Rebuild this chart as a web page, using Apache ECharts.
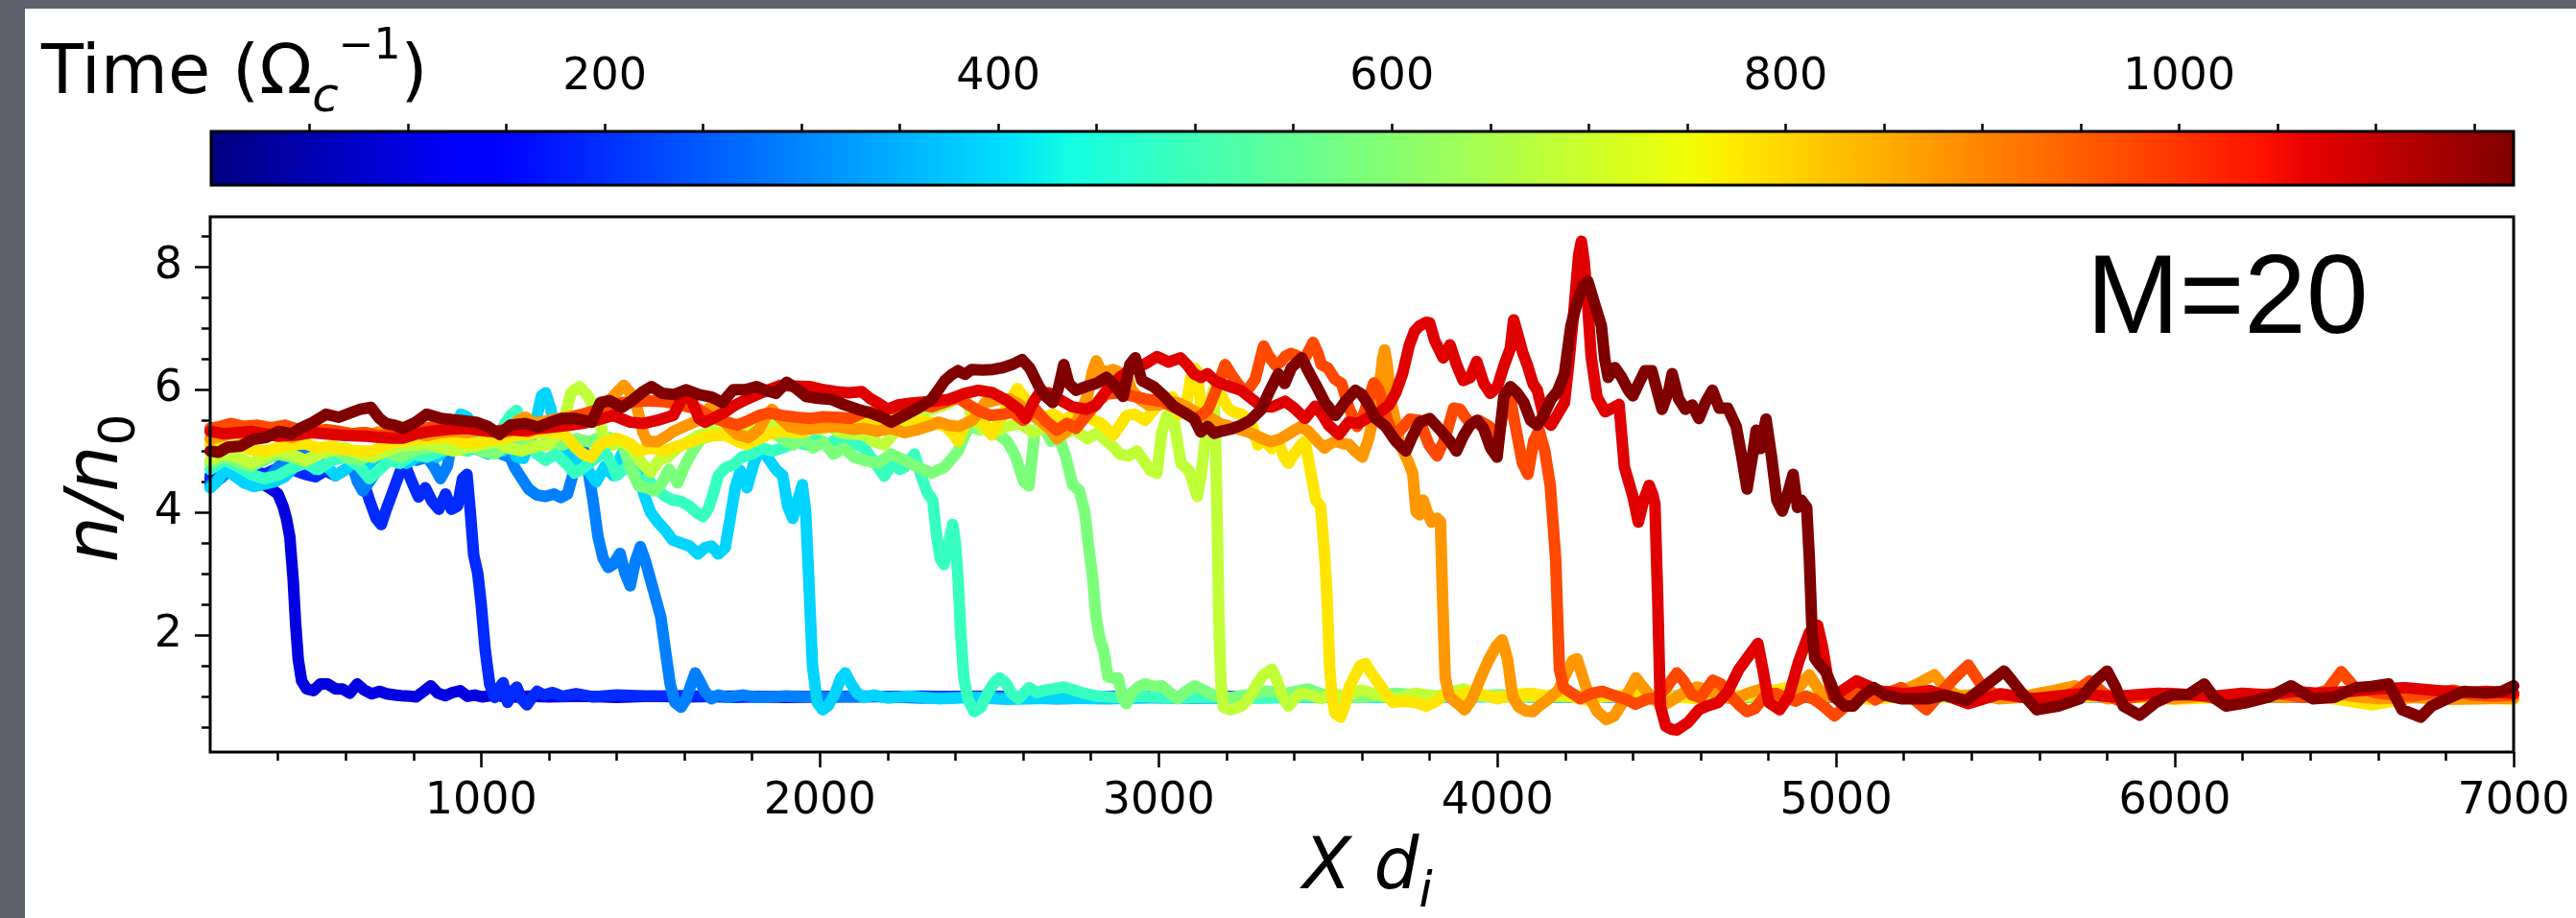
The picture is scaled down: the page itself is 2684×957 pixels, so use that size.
<!DOCTYPE html>
<html>

<head>
    <title>Density profiles, M=20</title>
    <meta charset="utf-8">
    <script src="https://cdn.jsdelivr.net/npm/echarts@6/dist/echarts.min.js"></script>
    <style>
        body { margin: 0; background: #5e616c; }
        #chart { position: absolute; left: 26px; top: 9px; width: 2658px; height: 948px; background: #fff; }
    </style>
</head>

<body>
    <div id="chart"></div>
    <script>
        // snapshot times (1/Omega_c), one profile each
        var times = [97.5, 195, 292.5, 390, 487.5, 585, 682.5, 780, 877.5, 975, 1072.5, 1170];

        // n/n0 profiles, [x, n/n0]
        var curve1 = [[200,4.55],[230,4.7],[260,4.78],[290,4.62],[320,4.55],[350,4.48],[380,4.38],[400,4.3],[415,4.1],[425,3.9],[435,3.6],[445,2.9],[452,2.2],[460,1.6],[470,1.25],[485,1.12],[505,1.09],[525,1.2],[547,1.2],[570,1.12],[590,1.12],[612,1.05],[634,1.2],[655,1.1],[677,1.04],[700,1.08],[721,1.04],[745,1.02],[764,1.01],[790,1.0],[808,0.99],[830,1.08],[851,1.17],[872,1.05],[894,1.01],[915,1.06],[938,1.09],[960,1.0],[981,1.02],[1003,0.99],[1040,1.02],[1080,0.98],[1140,1.0],[1200,0.99],[1300,1.0],[1400,0.98],[1500,1.0],[1600,0.99],[1750,1.0],[1900,0.98],[2100,1.0],[2300,0.99],[2500,1.0],[2700,0.98],[2900,1.0],[3100,0.99],[3300,1.0],[3600,0.98],[3900,1.0],[4200,0.99],[4500,1.0],[4800,0.98],[5100,1.0],[5500,0.99],[5900,1.0],[6300,0.98],[6700,1.0],[7000,0.99]];
        var curve2 = [[200,4.6],[240,4.75],[280,4.85],[320,4.7],[360,4.62],[400,4.72],[440,4.7],[480,4.62],[510,4.58],[540,4.68],[570,4.6],[600,4.7],[625,4.8],[650,4.55],[670,4.2],[690,3.9],[705,3.8],[720,4.05],[740,4.35],[760,4.65],[775,4.78],[795,4.5],[815,4.25],[835,4.4],[855,4.18],[875,4.05],[895,4.3],[912,4.05],[930,4.1],[945,4.55],[958,4.62],[968,4.0],[978,3.3],[990,3.0],[1000,2.5],[1012,1.75],[1025,1.2],[1040,0.98],[1055,1.15],[1065,1.22],[1078,0.9],[1092,1.08],[1105,1.15],[1120,0.95],[1135,0.86],[1150,0.98],[1165,1.08],[1185,1.02],[1210,1.06],[1240,1.0],[1280,1.04],[1330,0.99],[1400,1.02],[1500,1.0],[1600,1.01],[1750,0.98],[1900,1.0],[2100,0.99],[2300,1.0],[2500,0.98],[2750,1.0],[3000,0.99],[3300,1.0],[3600,0.98],[3900,1.0],[4200,0.99],[4600,1.0],[5000,0.98],[5400,1.0],[5800,0.99],[6200,1.0],[6600,0.99],[7000,1.0]];
        var curve3 = [[200,4.45],[230,4.55],[260,4.7],[300,4.55],[340,4.5],[380,4.6],[410,4.8],[440,4.92],[470,4.95],[500,5.0],[530,4.95],[560,4.9],[590,5.0],[615,4.85],[635,4.5],[650,4.35],[670,4.5],[700,4.75],[720,4.9],[750,5.0],[780,4.95],[810,4.85],[840,4.9],[860,4.75],[880,4.55],[900,4.75],[915,5.2],[930,5.3],[950,5.15],[975,5.05],[1000,5.0],[1030,5.05],[1060,4.95],[1085,4.9],[1100,4.72],[1120,4.55],[1140,4.38],[1165,4.28],[1190,4.26],[1215,4.3],[1235,4.24],[1255,4.3],[1270,4.6],[1285,5.0],[1300,5.1],[1315,4.7],[1330,4.2],[1345,3.6],[1360,3.25],[1375,3.1],[1390,3.15],[1410,3.33],[1425,3.0],[1440,2.8],[1455,3.2],[1470,3.44],[1485,3.2],[1500,2.9],[1515,2.6],[1530,2.3],[1545,1.7],[1558,1.2],[1572,0.9],[1590,0.82],[1605,0.95],[1620,1.2],[1632,1.38],[1645,1.25],[1660,1.08],[1680,0.96],[1700,1.02],[1730,0.98],[1770,1.02],[1820,0.98],[1900,1.0],[2000,0.98],[2150,1.0],[2300,0.97],[2500,0.99],[2700,0.96],[2900,0.98],[3100,0.97],[3400,0.99],[3700,0.98],[4000,1.0],[4400,0.99],[4800,1.0],[5200,0.99],[5600,1.0],[6000,0.99],[6500,1.0],[7000,0.99]];
        var curve4 = [[200,4.4],[220,4.5],[245,4.72],[270,4.6],[300,4.48],[330,4.42],[360,4.46],[390,4.5],[420,4.58],[450,4.75],[480,4.85],[510,4.7],[540,4.78],[570,4.6],[600,4.7],[630,4.85],[660,4.75],[690,4.7],[720,4.85],[750,4.95],[780,4.8],[810,4.9],[840,5.0],[870,4.9],[900,5.05],[920,5.2],[940,5.6],[960,5.55],[980,5.3],[1000,5.0],[1020,4.95],[1045,5.05],[1065,5.0],[1086,5.1],[1105,4.9],[1125,4.88],[1145,5.15],[1162,5.5],[1178,5.9],[1190,5.95],[1205,5.7],[1218,5.3],[1235,5.05],[1260,4.95],[1285,4.8],[1310,4.72],[1340,4.5],[1365,4.75],[1390,4.6],[1415,4.95],[1440,4.7],[1460,4.85],[1480,4.3],[1500,4.0],[1520,3.85],[1545,3.7],[1565,3.55],[1590,3.5],[1615,3.45],[1640,3.32],[1660,3.42],[1680,3.45],[1700,3.32],[1720,3.42],[1735,3.9],[1750,4.4],[1765,4.68],[1785,4.4],[1805,4.8],[1825,5.05],[1845,4.9],[1870,4.7],[1890,4.6],[1905,4.1],[1920,3.9],[1935,4.2],[1948,4.45],[1958,4.0],[1968,2.8],[1978,1.5],[1992,0.9],[2008,0.78],[2025,0.85],[2045,1.05],[2062,1.3],[2075,1.38],[2092,1.2],[2110,1.05],[2130,0.98],[2160,1.02],[2200,0.97],[2260,1.0],[2350,0.96],[2450,0.98],[2550,0.95],[2700,0.97],[2850,0.96],[3000,0.98],[3200,0.97],[3500,0.99],[3800,0.98],[4100,1.0],[4500,0.99],[4900,1.0],[5300,0.99],[5700,1.0],[6100,0.99],[6600,1.0],[7000,0.99]];
        var curve5 = [[200,4.7],[240,4.85],[280,4.75],[320,4.62],[360,4.55],[400,4.6],[440,4.72],[480,4.8],[520,4.7],[560,4.85],[600,4.9],[640,4.75],[670,4.55],[700,4.7],[730,4.85],[760,4.8],[800,4.95],[840,4.9],[880,5.0],[920,5.05],[960,5.0],[1000,5.1],[1040,5.15],[1073,5.47],[1090,5.6],[1105,5.66],[1125,5.4],[1145,5.1],[1165,4.95],[1190,4.85],[1220,4.95],[1250,4.8],[1276,4.64],[1300,4.72],[1330,4.85],[1364,5.0],[1385,4.8],[1400,4.6],[1420,4.7],[1445,4.78],[1465,4.48],[1490,4.55],[1515,4.4],[1541,4.27],[1565,4.2],[1590,4.18],[1615,4.1],[1635,4.0],[1655,3.93],[1670,4.05],[1685,4.3],[1700,4.6],[1720,4.72],[1745,4.78],[1770,4.9],[1800,4.95],[1830,5.05],[1860,5.0],[1896,5.06],[1930,5.15],[1960,5.1],[1990,5.2],[2020,5.1],[2050,5.2],[2080,5.15],[2110,5.1],[2130,5.06],[2150,4.9],[2170,4.75],[2190,4.59],[2205,4.72],[2220,4.85],[2235,4.7],[2250,4.74],[2265,4.85],[2279,4.95],[2290,4.75],[2301,4.56],[2317,4.32],[2333,4.2],[2345,3.6],[2355,3.25],[2366,3.15],[2380,3.5],[2392,3.8],[2400,3.5],[2408,2.9],[2416,2.0],[2425,1.3],[2437,0.95],[2455,0.75],[2475,0.82],[2495,1.05],[2512,1.2],[2530,1.3],[2548,1.22],[2566,1.05],[2586,0.96],[2602,1.05],[2618,1.14],[2640,1.06],[2665,1.1],[2690,1.12],[2720,1.15],[2750,1.1],[2780,1.05],[2820,1.0],[2880,0.98],[2950,1.0],[3050,0.97],[3150,0.99],[3300,0.97],[3500,0.99],[3700,0.98],[3900,1.0],[4200,0.99],[4500,1.0],[4900,0.99],[5300,1.0],[5700,0.99],[6100,1.0],[6600,0.99],[7000,1.0]];
        var curve6 = [[200,4.8],[240,4.9],[280,4.82],[320,4.75],[360,4.85],[400,4.95],[440,4.9],[480,4.82],[520,4.95],[560,5.05],[600,4.9],[640,4.85],[680,4.95],[720,5.0],[760,4.9],[800,5.0],[840,5.05],[880,5.1],[920,5.05],[960,5.11],[1000,5.0],[1040,4.95],[1080,5.1],[1120,5.15],[1160,5.05],[1200,5.15],[1240,5.1],[1280,5.2],[1320,5.15],[1360,5.25],[1390,5.2],[1415,5.16],[1440,4.74],[1465,4.43],[1490,4.4],[1510,4.35],[1530,4.45],[1555,4.7],[1580,4.48],[1600,4.75],[1625,5.0],[1650,5.2],[1680,5.25],[1710,5.35],[1740,5.3],[1770,5.15],[1800,5.2],[1830,5.4],[1860,5.3],[1890,5.2],[1920,5.1],[1950,5.2],[1980,5.05],[2010,5.15],[2040,4.95],[2070,5.05],[2100,4.9],[2130,4.85],[2170,4.8],[2210,4.95],[2250,4.85],[2289,4.74],[2329,4.64],[2369,4.74],[2408,5.0],[2439,5.4],[2470,5.35],[2504,5.34],[2530,5.25],[2553,5.16],[2577,4.92],[2602,4.5],[2617,4.43],[2634,5.3],[2655,5.45],[2683,5.16],[2707,5.21],[2726,4.9],[2746,4.45],[2766,4.35],[2782,4.0],[2792,3.5],[2805,2.94],[2815,2.3],[2826,1.95],[2838,1.74],[2850,1.32],[2865,1.3],[2880,1.3],[2895,0.95],[2905,0.88],[2920,1.05],[2940,1.15],[2960,1.2],[2985,1.16],[3009,1.17],[3035,1.05],[3057,0.96],[3080,1.08],[3106,1.17],[3139,1.08],[3170,1.0],[3210,0.98],[3260,1.02],[3320,1.08],[3380,1.05],[3440,1.12],[3500,1.0],[3600,0.98],[3700,1.05],[3800,1.0],[3900,1.0],[4000,1.02],[4200,0.99],[4400,1.0],[4600,0.98],[4900,1.0],[5300,0.99],[5700,1.0],[6100,0.99],[6600,1.0],[7000,1.0]];
        var curve7 = [[200,4.85],[240,4.95],[280,4.9],[320,4.8],[360,4.9],[400,5.0],[440,4.95],[480,4.85],[520,4.95],[560,5.0],[600,5.05],[640,4.95],[680,4.9],[720,5.0],[760,5.08],[800,5.1],[840,5.12],[880,5.05],[920,5.0],[960,5.05],[1000,5.1],[1040,5.15],[1080,5.05],[1120,5.0],[1160,5.08],[1200,5.1],[1240,5.4],[1265,5.95],[1290,6.05],[1315,5.9],[1339,5.63],[1364,5.21],[1390,5.1],[1420,5.15],[1450,5.0],[1475,4.8],[1500,4.65],[1525,4.85],[1550,4.9],[1580,5.05],[1610,5.15],[1640,5.25],[1670,5.3],[1700,5.4],[1730,5.35],[1760,5.45],[1790,5.38],[1820,5.5],[1850,5.45],[1880,5.5],[1910,5.42],[1940,5.38],[1970,5.45],[2000,5.35],[2030,5.4],[2060,5.3],[2090,5.28],[2130,5.27],[2160,5.15],[2190,5.1],[2220,5.3],[2250,5.45],[2290,5.6],[2329,5.68],[2370,5.75],[2400,5.85],[2428,5.89],[2450,5.55],[2480,5.35],[2510,5.3],[2550,5.4],[2590,5.45],[2630,5.3],[2670,5.4],[2710,5.25],[2750,5.35],[2790,5.2],[2820,5.3],[2846,5.16],[2870,5.05],[2885,4.95],[2911,4.92],[2935,5.0],[2955,4.85],[2976,4.68],[2995,4.64],[3009,5.3],[3025,5.58],[3045,5.5],[3066,4.8],[3090,4.68],[3106,4.4],[3114,4.26],[3125,4.6],[3140,5.3],[3152,5.8],[3162,6.0],[3168,5.2],[3173,3.8],[3178,2.2],[3184,1.2],[3192,0.82],[3212,0.78],[3244,0.84],[3265,0.95],[3290,1.2],[3310,1.35],[3334,1.44],[3350,1.25],[3365,1.0],[3383,0.84],[3400,0.95],[3420,1.05],[3448,1.02],[3480,0.96],[3510,1.04],[3550,1.0],[3600,1.1],[3650,1.02],[3700,0.96],[3760,1.05],[3820,1.0],[3900,1.12],[3960,1.0],[4050,0.98],[4200,1.02],[4400,1.0],[4600,0.98],[4900,1.0],[5300,0.98],[5700,1.0],[6100,0.98],[6600,1.0],[7000,0.99]];
        var curve8 = [[200,5.1],[240,5.05],[280,5.1],[320,5.02],[360,5.0],[400,5.05],[440,5.1],[480,5.12],[520,5.05],[560,5.08],[600,5.02],[640,5.0],[681,5.0],[720,5.1],[760,5.15],[800,5.18],[840,5.2],[880,5.22],[909,5.21],[940,5.15],[980,5.12],[1020,5.18],[1060,5.2],[1100,5.25],[1150,5.28],[1212,5.32],[1250,5.25],[1280,5.05],[1301,4.95],[1325,4.9],[1350,5.1],[1400,5.21],[1440,5.12],[1465,5.0],[1500,5.05],[1541,5.0],[1580,5.08],[1620,5.15],[1668,5.24],[1720,5.26],[1760,5.15],[1782,5.11],[1820,5.2],[1860,5.3],[1896,5.32],[1940,5.3],[1990,5.38],[2040,5.4],[2098,5.42],[2140,5.47],[2180,5.5],[2229,5.53],[2280,5.5],[2329,5.47],[2370,5.4],[2390,5.3],[2408,5.16],[2425,5.4],[2450,5.55],[2480,5.5],[2508,5.26],[2530,5.5],[2560,5.8],[2583,6.02],[2600,5.9],[2630,5.65],[2660,5.55],[2690,5.6],[2720,5.5],[2750,5.6],[2790,5.55],[2830,5.45],[2866,5.26],[2890,5.45],[2905,5.58],[2930,5.6],[2960,5.5],[2990,5.7],[3020,5.85],[3041,5.88],[3060,5.6],[3080,5.7],[3095,6.2],[3106,6.35],[3114,6.3],[3125,5.7],[3150,5.75],[3170,5.85],[3188,5.88],[3205,5.7],[3220,5.64],[3245,5.6],[3265,5.5],[3277,5.4],[3293,5.1],[3310,5.2],[3334,5.04],[3355,5.15],[3370,4.9],[3383,4.8],[3400,4.95],[3420,5.1],[3432,5.16],[3448,4.68],[3464,4.2],[3478,4.1],[3490,3.3],[3497,2.64],[3505,1.44],[3513,0.95],[3521,0.72],[3537,0.66],[3550,0.85],[3562,1.14],[3578,1.32],[3595,1.5],[3611,1.53],[3625,1.4],[3640,1.28],[3659,1.14],[3675,1.0],[3692,0.9],[3720,0.92],[3757,0.9],[3790,0.84],[3820,0.92],[3850,1.05],[3880,1.0],[3920,1.08],[3960,1.02],[4000,0.96],[4040,1.02],[4100,1.05],[4150,1.0],[4200,1.02],[4260,0.94],[4320,1.0],[4400,1.03],[4500,1.0],[4600,0.96],[4700,1.0],[4800,1.08],[4870,1.15],[4921,1.3],[4960,1.05],[5000,1.0],[5100,0.95],[5200,1.0],[5400,1.02],[5600,0.97],[5800,1.0],[6000,0.95],[6200,1.0],[6400,1.02],[6583,0.86],[6700,0.98],[6800,1.0],[7000,0.95]];
        var curve9 = [[200,5.2],[240,5.25],[280,5.3],[320,5.2],[360,5.25],[400,5.3],[440,5.22],[480,5.3],[520,5.35],[560,5.3],[600,5.25],[640,5.3],[680,5.28],[720,5.35],[760,5.4],[800,5.3],[840,5.25],[880,5.3],[920,5.32],[960,5.3],[1000,5.35],[1040,5.3],[1086,5.37],[1110,5.5],[1130,5.55],[1160,5.45],[1200,5.5],[1250,5.55],[1300,5.6],[1339,5.63],[1370,5.8],[1390,5.89],[1408,6.0],[1421,6.07],[1440,5.95],[1455,5.8],[1465,5.6],[1478,5.3],[1490,5.16],[1520,5.15],[1550,5.25],[1567,5.32],[1600,5.4],[1640,5.5],[1680,5.73],[1700,5.6],[1730,5.4],[1756,5.27],[1790,5.22],[1820,5.35],[1845,5.6],[1858,5.68],[1880,5.55],[1910,5.4],[1950,5.35],[2000,5.38],[2050,5.4],[2100,5.35],[2130,5.37],[2170,5.32],[2210,5.37],[2250,5.3],[2290,5.35],[2330,5.42],[2349,5.47],[2380,5.42],[2410,5.4],[2450,5.5],[2488,5.79],[2528,5.84],[2560,5.85],[2590,5.75],[2620,5.6],[2650,5.5],[2680,5.35],[2700,5.2],[2726,5.32],[2760,5.5],[2790,5.9],[2805,6.3],[2816,6.47],[2830,6.3],[2850,6.3],[2866,6.33],[2885,6.28],[2905,6.25],[2920,6.0],[2945,5.84],[2970,5.75],[3000,5.75],[3030,5.8],[3060,5.78],[3090,5.7],[3120,5.6],[3150,5.55],[3180,5.45],[3210,5.4],[3240,5.35],[3270,5.3],[3300,5.22],[3330,5.15],[3360,5.2],[3390,5.3],[3420,5.4],[3442,5.32],[3470,5.15],[3490,5.05],[3500,5.1],[3522,5.16],[3545,5.12],[3561,5.11],[3580,5.0],[3601,4.9],[3620,5.2],[3640,5.7],[3651,5.99],[3661,6.5],[3667,6.65],[3675,6.4],[3686,5.8],[3700,5.47],[3712,5.1],[3722,5.0],[3735,4.85],[3750,4.64],[3760,4.01],[3770,3.96],[3781,4.2],[3793,4.0],[3806,3.84],[3822,3.9],[3832,3.85],[3838,2.64],[3846,1.3],[3858,1.0],[3871,0.93],[3890,0.85],[3903,0.78],[3925,0.95],[3952,1.32],[3975,1.6],[3997,1.82],[4014,1.92],[4030,1.6],[4045,1.0],[4062,0.83],[4085,0.76],[4105,0.75],[4125,0.85],[4150,0.95],[4180,1.1],[4205,1.4],[4222,1.58],[4235,1.61],[4250,1.35],[4270,1.0],[4295,0.75],[4322,0.62],[4345,0.68],[4370,0.9],[4395,1.15],[4409,1.3],[4430,1.15],[4460,0.95],[4490,0.85],[4520,0.95],[4555,1.08],[4590,1.15],[4620,1.1],[4660,1.0],[4700,0.95],[4740,1.05],[4780,1.12],[4810,1.02],[4850,0.95],[4890,1.15],[4921,1.35],[4950,1.1],[4990,0.98],[5040,0.95],[5080,1.0],[5130,1.02],[5180,1.05],[5240,1.2],[5290,1.35],[5320,1.15],[5360,1.0],[5430,1.02],[5480,0.96],[5540,0.98],[5600,1.05],[5650,1.1],[5704,1.17],[5750,1.05],[5800,0.96],[5850,0.98],[5920,1.0],[6000,0.96],[6080,1.0],[6160,0.97],[6250,1.0],[6330,0.98],[6400,1.02],[6460,1.08],[6520,1.0],[6600,0.96],[6700,0.98],[6800,0.95],[6900,0.96],[7000,0.97]];
        var curve10 = [[200,5.37],[230,5.4],[260,5.45],[300,5.4],[340,5.42],[380,5.38],[420,5.42],[460,5.35],[500,5.3],[540,5.35],[580,5.32],[620,5.28],[660,5.3],[700,5.25],[740,5.28],[780,5.3],[820,5.35],[860,5.4],[896,5.42],[940,5.38],[980,5.35],[1022,5.32],[1060,5.3],[1100,5.35],[1140,5.32],[1180,5.4],[1212,5.47],[1250,5.52],[1288,5.58],[1330,5.65],[1370,5.72],[1415,5.79],[1450,5.8],[1490,5.82],[1529,5.81],[1570,5.78],[1610,5.72],[1643,5.68],[1680,5.55],[1720,5.48],[1756,5.42],[1790,5.5],[1820,5.58],[1850,5.62],[1890,5.58],[1930,5.55],[1972,5.53],[2010,5.56],[2050,5.55],[2090,5.53],[2130,5.63],[2170,5.65],[2210,5.7],[2250,5.68],[2293,5.76],[2330,5.72],[2370,5.8],[2407,5.87],[2440,5.75],[2470,5.65],[2504,5.58],[2540,5.6],[2570,5.63],[2600,5.5],[2634,5.69],[2665,5.5],[2699,5.34],[2730,5.45],[2756,5.37],[2790,5.6],[2820,5.8],[2846,5.93],[2880,5.95],[2920,5.9],[2960,5.85],[3009,5.81],[3050,5.7],[3080,5.62],[3106,5.52],[3130,5.6],[3147,5.69],[3170,6.0],[3196,6.41],[3220,6.2],[3253,5.96],[3270,6.05],[3285,6.17],[3300,6.5],[3310,6.71],[3325,6.55],[3345,6.4],[3360,6.45],[3375,6.55],[3391,6.59],[3410,6.55],[3425,6.45],[3440,6.6],[3456,6.77],[3470,6.6],[3480,6.41],[3500,6.35],[3521,6.17],[3540,6.1],[3562,5.7],[3586,5.4],[3605,5.6],[3620,5.85],[3635,6.11],[3650,6.0],[3670,5.6],[3692,5.22],[3715,5.35],[3741,5.52],[3770,5.5],[3798,5.1],[3822,4.92],[3845,5.2],[3871,5.7],[3890,5.68],[3905,5.55],[3920,5.46],[3945,5.5],[3977,5.4],[3995,5.0],[4017,5.64],[4034,6.0],[4050,5.5],[4074,4.8],[4090,4.62],[4107,5.16],[4123,5.34],[4140,5.0],[4156,4.44],[4172,3.24],[4183,1.44],[4196,1.14],[4220,1.05],[4245,0.96],[4280,1.05],[4310,1.08],[4350,1.0],[4380,0.95],[4408,0.87],[4440,0.95],[4473,0.98],[4500,1.15],[4530,1.38],[4550,1.25],[4575,1.02],[4600,0.98],[4636,1.26],[4660,1.2],[4690,1.0],[4715,0.85],[4737,0.75],[4760,0.8],[4790,1.0],[4820,1.05],[4850,0.98],[4880,0.92],[4910,1.0],[4935,0.95],[4960,0.85],[4995,0.68],[5020,0.8],[5060,1.2],[5090,1.05],[5116,0.94],[5150,1.05],[5192,1.14],[5230,0.95],[5267,0.78],[5315,1.09],[5350,1.3],[5390,1.51],[5428,1.19],[5466,1.04],[5530,1.0],[5627,0.94],[5700,1.05],[5749,1.25],[5790,1.05],[5830,0.94],[5900,1.0],[5980,1.05],[6060,1.02],[6140,0.95],[6220,1.0],[6300,1.05],[6380,0.98],[6450,1.1],[6491,1.4],[6530,1.15],[6600,1.05],[6650,1.02],[6700,1.0],[6760,1.05],[6820,1.1],[6880,1.02],[6940,1.0],[7000,1.02]];
        var curve11 = [[200,5.32],[240,5.28],[280,5.3],[320,5.32],[360,5.28],[400,5.24],[453,5.26],[500,5.3],[540,5.28],[580,5.26],[620,5.25],[660,5.24],[700,5.22],[740,5.21],[769,5.21],[810,5.28],[850,5.32],[900,5.35],[959,5.37],[1000,5.34],[1040,5.32],[1080,5.35],[1120,5.33],[1160,5.36],[1212,5.39],[1260,5.42],[1300,5.45],[1340,5.5],[1390,5.58],[1440,5.47],[1480,5.45],[1520,5.5],[1567,5.58],[1592,5.84],[1617,5.89],[1643,5.53],[1661,5.47],[1690,5.55],[1718,5.63],[1750,5.75],[1782,5.84],[1815,5.92],[1845,5.99],[1883,6.07],[1920,6.06],[1972,6.05],[2010,6.0],[2047,5.97],[2085,5.95],[2123,5.97],[2150,5.85],[2170,5.79],[2200,5.68],[2230,5.75],[2270,5.78],[2329,5.81],[2380,5.84],[2428,5.94],[2468,5.99],[2510,5.95],[2547,5.84],[2587,5.68],[2607,5.53],[2630,5.8],[2647,5.94],[2675,5.95],[2707,5.84],[2745,5.72],[2786,5.68],[2815,5.75],[2846,5.99],[2885,6.2],[2925,6.36],[2960,6.42],[2995,6.54],[3030,6.45],[3064,6.52],[3085,6.4],[3104,6.26],[3125,6.2],[3144,6.26],[3165,6.15],[3184,6.1],[3210,6.05],[3243,5.99],[3275,5.85],[3303,5.73],[3335,5.72],[3373,5.81],[3400,5.7],[3432,5.53],[3462,5.73],[3482,5.6],[3502,5.42],[3532,5.27],[3561,5.47],[3590,5.45],[3620,5.55],[3650,5.62],[3680,5.75],[3700,5.95],[3720,6.26],[3740,6.73],[3755,6.95],[3770,7.04],[3790,7.1],[3800,7.09],[3815,6.8],[3840,6.52],[3860,6.73],[3880,6.4],[3899,6.15],[3920,6.2],[3939,6.46],[3960,6.1],[3979,5.94],[4000,6.05],[4020,6.4],[4038,6.67],[4048,7.14],[4060,6.9],[4075,6.6],[4088,6.41],[4105,6.1],[4118,5.99],[4138,5.53],[4158,5.42],[4178,5.6],[4198,5.79],[4212,6.5],[4227,7.35],[4240,8.2],[4248,8.42],[4256,8.1],[4265,7.5],[4277,6.53],[4294,5.88],[4318,5.64],[4340,5.7],[4359,5.76],[4375,4.74],[4400,4.26],[4416,3.84],[4432,4.2],[4448,4.44],[4458,4.3],[4465,4.14],[4473,2.64],[4481,0.84],[4497,0.51],[4515,0.46],[4530,0.45],[4562,0.57],[4595,0.78],[4619,0.84],[4652,0.9],[4681,1.08],[4713,1.44],[4745,1.68],[4769,1.86],[4785,1.4],[4801,0.9],[4833,0.78],[4860,1.0],[4889,1.56],[4921,2.04],[4945,2.16],[4960,1.8],[4975,1.3],[4993,0.99],[5020,1.1],[5060,1.25],[5126,1.09],[5201,1.04],[5277,1.09],[5340,0.98],[5390,0.88],[5485,1.04],[5579,0.96],[5650,1.0],[5721,1.04],[5815,0.99],[5880,1.02],[5950,1.05],[6050,1.02],[6120,1.0],[6199,1.05],[6280,1.02],[6350,1.08],[6420,1.05],[6519,1.08],[6600,1.12],[6679,1.14],[6760,1.1],[6850,1.06],[6920,1.08],[7000,1.05]];
        var curve12 = [[200,5.0],[225,4.98],[251,5.06],[290,5.08],[327,5.19],[365,5.22],[402,5.32],[440,5.28],[466,5.37],[504,5.47],[542,5.6],[580,5.55],[618,5.63],[643,5.68],[675,5.71],[700,5.53],[719,5.45],[745,5.42],[769,5.37],[807,5.47],[839,5.6],[883,5.53],[935,5.5],[985,5.47],[1020,5.4],[1054,5.27],[1086,5.42],[1130,5.45],[1168,5.39],[1200,5.46],[1238,5.53],[1280,5.53],[1326,5.47],[1352,5.79],[1380,5.82],[1415,5.71],[1445,5.82],[1478,5.97],[1503,6.05],[1535,5.94],[1570,5.92],[1605,6.0],[1643,5.92],[1680,5.88],[1712,5.79],[1744,6.0],[1780,6.0],[1813,6.05],[1845,5.98],[1870,5.94],[1902,6.12],[1930,6.02],[1959,5.89],[1995,5.86],[2035,5.84],[2070,5.76],[2111,5.68],[2150,5.62],[2184,5.55],[2210,5.47],[2249,5.58],[2290,5.7],[2329,5.84],[2350,6.0],[2369,6.15],[2390,6.25],[2408,6.31],[2428,6.25],[2448,6.33],[2480,6.32],[2510,6.33],[2540,6.36],[2567,6.41],[2597,6.49],[2620,6.35],[2647,6.05],[2667,5.89],[2687,5.79],[2703,6.0],[2720,6.41],[2735,6.1],[2756,5.99],[2785,6.05],[2815,6.1],[2846,6.2],[2866,6.1],[2895,5.89],[2915,6.41],[2931,6.52],[2950,6.15],[2985,6.05],[3015,5.9],[3044,5.73],[3074,5.63],[3104,5.53],[3124,5.31],[3144,5.4],[3164,5.29],[3190,5.33],[3215,5.36],[3243,5.42],[3270,5.5],[3303,5.68],[3325,5.95],[3353,6.26],[3372,6.1],[3392,6.36],[3422,6.52],[3442,6.3],[3462,6.1],[3492,5.78],[3522,5.58],[3550,5.8],[3581,5.99],[3600,5.92],[3620,5.75],[3641,5.53],[3670,5.4],[3700,5.16],[3730,5.0],[3750,5.25],[3770,5.47],[3800,5.53],[3830,5.35],[3860,5.16],[3879,5.0],[3900,5.25],[3919,5.42],[3940,5.5],[3959,5.37],[3980,5.05],[3999,4.9],[4019,5.89],[4038,6.05],[4058,5.95],[4078,5.79],[4098,5.5],[4118,5.42],[4138,5.6],[4158,5.84],[4178,5.98],[4198,6.26],[4217,7.04],[4237,7.46],[4255,7.7],[4267,7.77],[4287,7.4],[4307,7.04],[4317,6.5],[4327,6.2],[4347,6.36],[4367,6.2],[4387,5.99],[4400,5.9],[4417,6.1],[4436,6.31],[4456,6.31],[4476,5.89],[4486,5.68],[4506,5.99],[4516,6.26],[4535,5.85],[4555,5.68],[4575,5.75],[4595,5.53],[4615,5.8],[4635,5.99],[4655,5.7],[4680,5.7],[4705,5.4],[4721,4.92],[4737,4.38],[4753,4.92],[4764,5.34],[4777,5.04],[4793,5.52],[4809,4.92],[4825,4.2],[4841,4.02],[4857,4.3],[4873,4.62],[4886,4.08],[4897,4.2],[4913,4.08],[4921,3.24],[4929,2.04],[4937,1.62],[4953,1.5],[4969,1.4],[4985,1.2],[5001,0.96],[5025,0.84],[5050,0.84],[5081,1.02],[5112,1.14],[5144,1.02],[5192,0.96],[5232,0.96],[5272,0.96],[5320,1.02],[5350,0.98],[5384,0.93],[5440,1.17],[5470,1.3],[5496,1.41],[5520,1.25],[5544,1.08],[5592,0.78],[5656,0.84],[5720,0.96],[5768,1.26],[5800,1.41],[5825,1.15],[5848,0.84],[5896,0.69],[5943,0.9],[5991,1.02],[6040,1.03],[6087,1.2],[6119,0.96],[6151,0.84],[6215,0.9],[6279,0.99],[6343,1.17],[6407,0.96],[6470,0.98],[6535,1.14],[6580,1.16],[6631,1.2],[6671,0.78],[6726,0.66],[6758,0.84],[6800,0.95],[6854,1.08],[6918,1.05],[6966,1.08],[7000,1.17]];

        var curves = [curve1, curve2, curve3, curve4, curve5, curve6, curve7, curve8, curve9, curve10, curve11, curve12];

        // tick positions
        var xMajor = [1000, 2000, 3000, 4000, 5000, 6000, 7000];
        var yMajor = [2, 4, 6, 8];
        var cbMajor = [200, 400, 600, 800, 1000];
        var xMinor = [], yMinor = [], cbMinor = [];
        for (var v = 400; v <= 7000; v += 200) xMinor.push(v);
        for (var v = 0.5; v <= 8.5; v += 0.5) yMinor.push(v);
        for (var v = 50; v <= 1150; v += 50) cbMinor.push(v);

        var cbMin = 0, cbMax = 1170;

        // matplotlib 'jet' colormap segments
        var jetR = [[0, 0], [0.35, 0], [0.66, 1], [0.89, 1], [1, 0.5]];
        var jetG = [[0, 0], [0.125, 0], [0.375, 1], [0.64, 1], [0.91, 0], [1, 0]];
        var jetB = [[0, 0.5], [0.11, 1], [0.34, 1], [0.65, 0], [1, 0]];
        function seg(pts, t) {
            for (var i = 1; i < pts.length; i++) {
                if (t <= pts[i][0]) {
                    var a = pts[i - 1], b = pts[i];
                    return a[1] + (b[1] - a[1]) * (t - a[0]) / (b[0] - a[0]);
                }
            }
            return pts[pts.length - 1][1];
        }
        function jet(t) {
            var c = [seg(jetR, t), seg(jetG, t), seg(jetB, t)].map(function (x) { return Math.round(x * 255); });
            return 'rgb(' + c.join(',') + ')';
        }
        var stops = [0, 0.11, 0.125, 0.34, 0.35, 0.375, 0.64, 0.65, 0.66, 0.89, 0.91, 1].map(function (t) {
            return { offset: t, color: jet(t) };
        });

        var tickLabel = { fontFamily: 'DejaVu Sans', fontSize: 46, color: '#000', formatter: function (v) { return String(v); } };
        var tickLine = { color: '#000', width: 2.5 };

        function axis(gridIndex, pos, min, max, ticks, len, labels, margin) {
            return {
                gridIndex: gridIndex, type: 'value', position: pos, min: min, max: max,
                axisLine: { show: false }, splitLine: { show: false },
                axisTick: { show: true, customValues: ticks, length: len, lineStyle: tickLine },
                axisLabel: labels ? Object.assign({ show: true, customValues: labels, margin: margin }, tickLabel) : { show: false }
            };
        }

        var chart = echarts.init(document.getElementById('chart'));
        var option = {
            animation: false,
            grid: [
                { left: 193, top: 217, width: 2400, height: 558, show: true, borderColor: '#000', borderWidth: 3, backgroundColor: 'transparent', z: 3 },
                { left: 194, top: 128, width: 2399, height: 56, show: true, borderColor: '#000', borderWidth: 3, backgroundColor: 'transparent', z: 3 }
            ],
            xAxis: [
                axis(0, 'bottom', 200, 7000, xMajor, 16, xMajor, 29),
                axis(0, 'bottom', 200, 7000, xMinor, 9),
                axis(1, 'top', cbMin, cbMax, cbMajor, 15, cbMajor, 33),
                axis(1, 'top', cbMin, cbMax, cbMinor, 8)
            ],
            yAxis: [
                axis(0, 'left', 0.09, 8.82, yMajor, 16, yMajor, 29),
                axis(0, 'left', 0.09, 8.82, yMinor, 9),
                { gridIndex: 1, type: 'value', min: 0, max: 1, show: false }
            ],
            series: curves.map(function (d, i) {
                return {
                    type: 'line', data: d, xAxisIndex: 0, yAxisIndex: 0,
                    symbol: 'none', showSymbol: false, silent: true, z: 2,
                    lineStyle: { width: 12, color: jet(times[i] / cbMax), cap: 'round', join: 'round' }
                };
            }).concat([{
                type: 'custom', xAxisIndex: 2, yAxisIndex: 2, silent: true, z: 2,
                data: [[cbMin, cbMax]],
                renderItem: function (params, api) {
                    var p0 = api.coord([api.value(0), 0]);
                    var p1 = api.coord([api.value(1), 1]);
                    return {
                        type: 'rect',
                        shape: { x: p0[0], y: p1[1], width: p1[0] - p0[0], height: p0[1] - p1[1] },
                        style: { fill: new echarts.graphic.LinearGradient(0, 0, 1, 0, stops) }
                    };
                }
            }]),
            graphic: [
                {
                    type: 'text', x: 17, y: 69, z: 10,
                    style: {
                        text: '{m|Time (Ω}{s|c}{p|−1}{m|)}', align: 'left', verticalAlign: 'middle',
                        rich: {
                            m: { fontFamily: 'DejaVu Sans', fontSize: 72, lineHeight: 100, fill: '#000' },
                            s: { fontFamily: 'DejaVu Sans', fontStyle: 'italic', fontSize: 50, lineHeight: 40, verticalAlign: 'bottom', fill: '#000' },
                            p: { fontFamily: 'DejaVu Sans', fontSize: 44, lineHeight: 60, verticalAlign: 'top', fill: '#000' }
                        }
                    }
                },
                {
                    type: 'text', x: 2148, y: 306, z: 10,
                    style: { text: 'M=20', fontFamily: 'Liberation Sans', fontSize: 116, fill: '#000', align: 'left', verticalAlign: 'middle' }
                },
                {
                    type: 'text', x: 76, y: 500, rotation: Math.PI / 2, z: 10,
                    style: {
                        text: '{m|n/n}{s|0}', align: 'center', verticalAlign: 'middle',
                        rich: {
                            m: { fontFamily: 'DejaVu Sans', fontStyle: 'italic', fontSize: 76, lineHeight: 100, fill: '#000' },
                            s: { fontFamily: 'DejaVu Sans', fontSize: 52, lineHeight: 60, verticalAlign: 'bottom', fill: '#000' }
                        }
                    }
                },
                {
                    type: 'text', x: 1399, y: 898, z: 10,
                    style: {
                        text: '{m|X d}{s|i}', align: 'center', verticalAlign: 'middle',
                        rich: {
                            m: { fontFamily: 'DejaVu Sans', fontStyle: 'italic', fontSize: 74, lineHeight: 100, fill: '#000' },
                            s: { fontFamily: 'DejaVu Sans', fontStyle: 'italic', fontSize: 52, lineHeight: 61, verticalAlign: 'bottom', fill: '#000' }
                        }
                    }
                }
            ]
        };
        chart.setOption(option);
    </script>
</body>

</html>
